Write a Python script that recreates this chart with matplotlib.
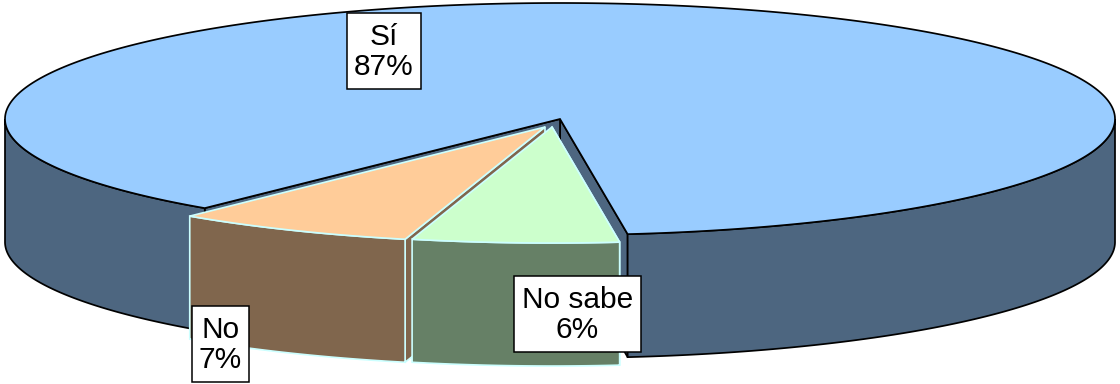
import numpy as np
import matplotlib
matplotlib.use("Agg")
import matplotlib.pyplot as plt
from matplotlib.patches import Rectangle

plt.rcParams["font.family"] = ["Liberation Sans", "DejaVu Sans"]

#data
categorias = ["Sí", "No", "No sabe"]
porcentajes = [87, 7, 6]

#colors
top_colors = ["#99CCFF", "#FFCC99", "#CCFFCC"]
side_colors = ["#4D6680", "#80664D", "#668066"]
edge_colors = ["black", "#CCFFFF", "#CCFFFF"]
edge_widths = [1.25, 1.2, 1.2]

#pixel layout of the fake 3d pie
centers = [(560, 119), (545, 127), (552, 127)]
rx = 555
ry = 116
depth = 123
start_angle = 7  # degrees from the bottom of the ellipse
label_boxes = [(347, 13, 74, 76), (192, 306, 57, 76), (514, 276, 127, 76)]


def rim(center, t):
    t = np.radians(t)
    return center[0] + rx * np.sin(t), center[1] + ry * np.cos(t)


def draw_radial_wall(ax, center, t, color, edge, lw):
    x, y = rim(center, t)
    xs = [center[0], x, x, center[0]]
    ys = [center[1], y, y + depth, center[1] + depth]
    ax.fill(xs, ys, facecolor=color, edgecolor=edge, linewidth=lw, joinstyle="round")


def draw_outer_wall(ax, center, t0, t1, color, edge, lw):
    # only the front half of the rim is visible
    t = np.linspace(t0, t1, 300)
    t = t[np.cos(np.radians(t)) >= 0]
    if len(t) == 0:
        return
    x, y = rim(center, t)
    xs = np.concatenate([x, x[::-1]])
    ys = np.concatenate([y, (y + depth)[::-1]])
    ax.fill(xs, ys, facecolor=color, edgecolor=edge, linewidth=lw)


fig = plt.figure(figsize=(11.2, 3.84), dpi=100)
ax = fig.add_axes([0, 0, 1, 1])
ax.set_xlim(0, 1120)
ax.set_ylim(384, 0)
ax.axis("off")

angles = start_angle + np.cumsum([0] + [p * 3.6 for p in porcentajes])

for i in range(len(categorias)):
    t0, t1 = angles[i], angles[i + 1]
    c = centers[i]
    if i == 0:
        # big slice: front walls in two parts, plus both cut faces
        draw_radial_wall(ax, c, t0, side_colors[i], edge_colors[i], edge_widths[i])
        draw_radial_wall(ax, c, t1, side_colors[i], edge_colors[i], edge_widths[i])
        draw_outer_wall(ax, c, t0, 90, side_colors[i], edge_colors[i], edge_widths[i])
        draw_outer_wall(ax, c, 270, t1, side_colors[i], edge_colors[i], edge_widths[i])
    else:
        draw_radial_wall(ax, c, t1, side_colors[i], edge_colors[i], edge_widths[i])
        draw_outer_wall(ax, c, t0, t1, side_colors[i], edge_colors[i], edge_widths[i])
    t = np.linspace(t0, t1, 400)
    x, y = rim(c, t)
    ax.fill(np.concatenate([[c[0]], x]), np.concatenate([[c[1]], y]),
            facecolor=top_colors[i], edgecolor=edge_colors[i], linewidth=edge_widths[i])

#labels
for i in range(len(categorias)):
    bx, by, bw, bh = label_boxes[i]
    ax.add_patch(Rectangle((bx, by), bw, bh, facecolor="white", edgecolor="black",
                           linewidth=1.1, zorder=5))
    ax.text(bx + bw / 2, by + bh / 2 + 1, f"{categorias[i]}\n{porcentajes[i]}%",
            ha="center", va="center", fontsize=21.5, color="black",
            linespacing=1.07, zorder=6)

plt.savefig("out.png", dpi=100)
